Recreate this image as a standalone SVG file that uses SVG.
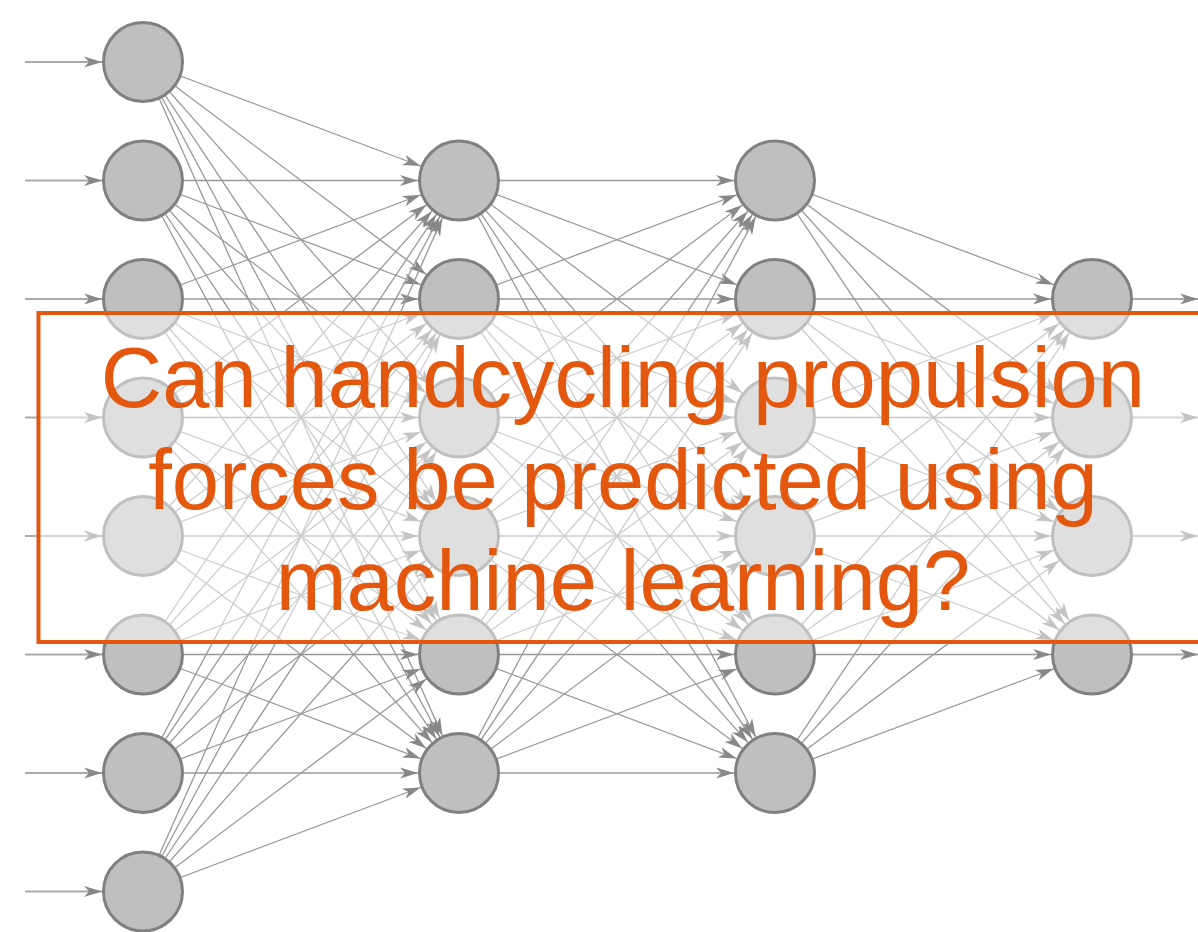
<svg xmlns="http://www.w3.org/2000/svg" width="1198" height="932" viewBox="0 0 1198 932">
<style>
.e{stroke:#999;stroke-width:1.3;fill:none;marker-end:url(#ah)}
.io{stroke:#aaa;stroke-width:2;fill:none}
.n{fill:#bfbfbf;stroke:#808080;stroke-width:3}
.t{font-family:"Liberation Sans",Arial,sans-serif;font-size:85px;fill:#E4570F;text-anchor:middle}
</style>
<defs>
<marker id="ah" markerUnits="userSpaceOnUse" markerWidth="60" markerHeight="12" refX="59" refY="5.5" orient="auto" overflow="visible"><path d="M0,0 L18,5.5 L0,11 L5,5.5 z" fill="#888"/></marker>
<marker id="ao" markerUnits="userSpaceOnUse" markerWidth="20" markerHeight="12" refX="18" refY="5.5" orient="auto" overflow="visible"><path d="M0,0 L18,5.5 L0,11 L5,5.5 z" fill="#888"/></marker>
</defs>
<rect width="1198" height="932" fill="#fff"/>
<g id="connectors">
<line class="io" x1="25" y1="62" x2="143" y2="62" marker-end="url(#ah)"/>
<line class="io" x1="25" y1="180.5" x2="143" y2="180.5" marker-end="url(#ah)"/>
<line class="io" x1="25" y1="299" x2="143" y2="299" marker-end="url(#ah)"/>
<line class="io" x1="25" y1="417.5" x2="143" y2="417.5" marker-end="url(#ah)"/>
<line class="io" x1="25" y1="536" x2="143" y2="536" marker-end="url(#ah)"/>
<line class="io" x1="25" y1="654.5" x2="143" y2="654.5" marker-end="url(#ah)"/>
<line class="io" x1="25" y1="773" x2="143" y2="773" marker-end="url(#ah)"/>
<line class="io" x1="25" y1="891.5" x2="143" y2="891.5" marker-end="url(#ah)"/>
<line class="io" x1="1092" y1="299" x2="1198" y2="299" marker-end="url(#ao)"/>
<line class="io" x1="1092" y1="417.5" x2="1198" y2="417.5" marker-end="url(#ao)"/>
<line class="io" x1="1092" y1="536" x2="1198" y2="536" marker-end="url(#ao)"/>
<line class="io" x1="1092" y1="654.5" x2="1198" y2="654.5" marker-end="url(#ao)"/>
<line class="e" x1="143" y1="62" x2="459" y2="180.5"/>
<line class="e" x1="143" y1="62" x2="459" y2="299"/>
<line class="e" x1="143" y1="62" x2="459" y2="417.5"/>
<line class="e" x1="143" y1="62" x2="459" y2="536"/>
<line class="e" x1="143" y1="62" x2="459" y2="654.5"/>
<line class="e" x1="143" y1="62" x2="459" y2="773"/>
<line class="e" x1="143" y1="180.5" x2="459" y2="180.5"/>
<line class="e" x1="143" y1="180.5" x2="459" y2="299"/>
<line class="e" x1="143" y1="180.5" x2="459" y2="417.5"/>
<line class="e" x1="143" y1="180.5" x2="459" y2="536"/>
<line class="e" x1="143" y1="180.5" x2="459" y2="654.5"/>
<line class="e" x1="143" y1="180.5" x2="459" y2="773"/>
<line class="e" x1="143" y1="299" x2="459" y2="180.5"/>
<line class="e" x1="143" y1="299" x2="459" y2="299"/>
<line class="e" x1="143" y1="299" x2="459" y2="417.5"/>
<line class="e" x1="143" y1="299" x2="459" y2="536"/>
<line class="e" x1="143" y1="299" x2="459" y2="654.5"/>
<line class="e" x1="143" y1="299" x2="459" y2="773"/>
<line class="e" x1="143" y1="417.5" x2="459" y2="180.5"/>
<line class="e" x1="143" y1="417.5" x2="459" y2="299"/>
<line class="e" x1="143" y1="417.5" x2="459" y2="417.5"/>
<line class="e" x1="143" y1="417.5" x2="459" y2="536"/>
<line class="e" x1="143" y1="417.5" x2="459" y2="654.5"/>
<line class="e" x1="143" y1="417.5" x2="459" y2="773"/>
<line class="e" x1="143" y1="536" x2="459" y2="180.5"/>
<line class="e" x1="143" y1="536" x2="459" y2="299"/>
<line class="e" x1="143" y1="536" x2="459" y2="417.5"/>
<line class="e" x1="143" y1="536" x2="459" y2="536"/>
<line class="e" x1="143" y1="536" x2="459" y2="654.5"/>
<line class="e" x1="143" y1="536" x2="459" y2="773"/>
<line class="e" x1="143" y1="654.5" x2="459" y2="180.5"/>
<line class="e" x1="143" y1="654.5" x2="459" y2="299"/>
<line class="e" x1="143" y1="654.5" x2="459" y2="417.5"/>
<line class="e" x1="143" y1="654.5" x2="459" y2="536"/>
<line class="e" x1="143" y1="654.5" x2="459" y2="654.5"/>
<line class="e" x1="143" y1="654.5" x2="459" y2="773"/>
<line class="e" x1="143" y1="773" x2="459" y2="180.5"/>
<line class="e" x1="143" y1="773" x2="459" y2="299"/>
<line class="e" x1="143" y1="773" x2="459" y2="417.5"/>
<line class="e" x1="143" y1="773" x2="459" y2="536"/>
<line class="e" x1="143" y1="773" x2="459" y2="654.5"/>
<line class="e" x1="143" y1="773" x2="459" y2="773"/>
<line class="e" x1="143" y1="891.5" x2="459" y2="180.5"/>
<line class="e" x1="143" y1="891.5" x2="459" y2="299"/>
<line class="e" x1="143" y1="891.5" x2="459" y2="417.5"/>
<line class="e" x1="143" y1="891.5" x2="459" y2="536"/>
<line class="e" x1="143" y1="891.5" x2="459" y2="654.5"/>
<line class="e" x1="143" y1="891.5" x2="459" y2="773"/>
<line class="e" x1="459" y1="180.5" x2="775" y2="180.5"/>
<line class="e" x1="459" y1="180.5" x2="775" y2="299"/>
<line class="e" x1="459" y1="180.5" x2="775" y2="417.5"/>
<line class="e" x1="459" y1="180.5" x2="775" y2="536"/>
<line class="e" x1="459" y1="180.5" x2="775" y2="654.5"/>
<line class="e" x1="459" y1="180.5" x2="775" y2="773"/>
<line class="e" x1="459" y1="299" x2="775" y2="180.5"/>
<line class="e" x1="459" y1="299" x2="775" y2="299"/>
<line class="e" x1="459" y1="299" x2="775" y2="417.5"/>
<line class="e" x1="459" y1="299" x2="775" y2="536"/>
<line class="e" x1="459" y1="299" x2="775" y2="654.5"/>
<line class="e" x1="459" y1="299" x2="775" y2="773"/>
<line class="e" x1="459" y1="417.5" x2="775" y2="180.5"/>
<line class="e" x1="459" y1="417.5" x2="775" y2="299"/>
<line class="e" x1="459" y1="417.5" x2="775" y2="417.5"/>
<line class="e" x1="459" y1="417.5" x2="775" y2="536"/>
<line class="e" x1="459" y1="417.5" x2="775" y2="654.5"/>
<line class="e" x1="459" y1="417.5" x2="775" y2="773"/>
<line class="e" x1="459" y1="536" x2="775" y2="180.5"/>
<line class="e" x1="459" y1="536" x2="775" y2="299"/>
<line class="e" x1="459" y1="536" x2="775" y2="417.5"/>
<line class="e" x1="459" y1="536" x2="775" y2="536"/>
<line class="e" x1="459" y1="536" x2="775" y2="654.5"/>
<line class="e" x1="459" y1="536" x2="775" y2="773"/>
<line class="e" x1="459" y1="654.5" x2="775" y2="180.5"/>
<line class="e" x1="459" y1="654.5" x2="775" y2="299"/>
<line class="e" x1="459" y1="654.5" x2="775" y2="417.5"/>
<line class="e" x1="459" y1="654.5" x2="775" y2="536"/>
<line class="e" x1="459" y1="654.5" x2="775" y2="654.5"/>
<line class="e" x1="459" y1="654.5" x2="775" y2="773"/>
<line class="e" x1="459" y1="773" x2="775" y2="180.5"/>
<line class="e" x1="459" y1="773" x2="775" y2="299"/>
<line class="e" x1="459" y1="773" x2="775" y2="417.5"/>
<line class="e" x1="459" y1="773" x2="775" y2="536"/>
<line class="e" x1="459" y1="773" x2="775" y2="654.5"/>
<line class="e" x1="459" y1="773" x2="775" y2="773"/>
<line class="e" x1="775" y1="180.5" x2="1092" y2="299"/>
<line class="e" x1="775" y1="180.5" x2="1092" y2="417.5"/>
<line class="e" x1="775" y1="180.5" x2="1092" y2="536"/>
<line class="e" x1="775" y1="180.5" x2="1092" y2="654.5"/>
<line class="e" x1="775" y1="299" x2="1092" y2="299"/>
<line class="e" x1="775" y1="299" x2="1092" y2="417.5"/>
<line class="e" x1="775" y1="299" x2="1092" y2="536"/>
<line class="e" x1="775" y1="299" x2="1092" y2="654.5"/>
<line class="e" x1="775" y1="417.5" x2="1092" y2="299"/>
<line class="e" x1="775" y1="417.5" x2="1092" y2="417.5"/>
<line class="e" x1="775" y1="417.5" x2="1092" y2="536"/>
<line class="e" x1="775" y1="417.5" x2="1092" y2="654.5"/>
<line class="e" x1="775" y1="536" x2="1092" y2="299"/>
<line class="e" x1="775" y1="536" x2="1092" y2="417.5"/>
<line class="e" x1="775" y1="536" x2="1092" y2="536"/>
<line class="e" x1="775" y1="536" x2="1092" y2="654.5"/>
<line class="e" x1="775" y1="654.5" x2="1092" y2="299"/>
<line class="e" x1="775" y1="654.5" x2="1092" y2="417.5"/>
<line class="e" x1="775" y1="654.5" x2="1092" y2="536"/>
<line class="e" x1="775" y1="654.5" x2="1092" y2="654.5"/>
<line class="e" x1="775" y1="773" x2="1092" y2="299"/>
<line class="e" x1="775" y1="773" x2="1092" y2="417.5"/>
<line class="e" x1="775" y1="773" x2="1092" y2="536"/>
<line class="e" x1="775" y1="773" x2="1092" y2="654.5"/>
</g>
<g id="layer1">
<g id="n1_1"><circle class="n" cx="143" cy="62" r="39.5"/></g>
<g id="n1_2"><circle class="n" cx="143" cy="180.5" r="39.5"/></g>
<g id="n1_3"><circle class="n" cx="143" cy="299" r="39.5"/></g>
<g id="n1_4"><circle class="n" cx="143" cy="417.5" r="39.5"/></g>
<g id="n1_5"><circle class="n" cx="143" cy="536" r="39.5"/></g>
<g id="n1_6"><circle class="n" cx="143" cy="654.5" r="39.5"/></g>
<g id="n1_7"><circle class="n" cx="143" cy="773" r="39.5"/></g>
<g id="n1_8"><circle class="n" cx="143" cy="891.5" r="39.5"/></g>
</g>
<g id="layer2">
<g id="n2_1"><circle class="n" cx="459" cy="180.5" r="39.5"/></g>
<g id="n2_2"><circle class="n" cx="459" cy="299" r="39.5"/></g>
<g id="n2_3"><circle class="n" cx="459" cy="417.5" r="39.5"/></g>
<g id="n2_4"><circle class="n" cx="459" cy="536" r="39.5"/></g>
<g id="n2_5"><circle class="n" cx="459" cy="654.5" r="39.5"/></g>
<g id="n2_6"><circle class="n" cx="459" cy="773" r="39.5"/></g>
</g>
<g id="layer3">
<g id="n3_1"><circle class="n" cx="775" cy="180.5" r="39.5"/></g>
<g id="n3_2"><circle class="n" cx="775" cy="299" r="39.5"/></g>
<g id="n3_3"><circle class="n" cx="775" cy="417.5" r="39.5"/></g>
<g id="n3_4"><circle class="n" cx="775" cy="536" r="39.5"/></g>
<g id="n3_5"><circle class="n" cx="775" cy="654.5" r="39.5"/></g>
<g id="n3_6"><circle class="n" cx="775" cy="773" r="39.5"/></g>
</g>
<g id="layer4">
<g id="n4_1"><circle class="n" cx="1092" cy="299" r="39.5"/></g>
<g id="n4_2"><circle class="n" cx="1092" cy="417.5" r="39.5"/></g>
<g id="n4_3"><circle class="n" cx="1092" cy="536" r="39.5"/></g>
<g id="n4_4"><circle class="n" cx="1092" cy="654.5" r="39.5"/></g>
</g>
<g id="title">
<rect x="38.5" y="313" width="1180" height="329" fill="#fff" fill-opacity="0.5" stroke="#E4570F" stroke-width="4"/>
<text class="t" x="623" y="407">Can handcycling propulsion</text>
<text class="t" x="623" y="509">forces be predicted using</text>
<text class="t" x="623" y="610">machine learning?</text>
</g>
</svg>
